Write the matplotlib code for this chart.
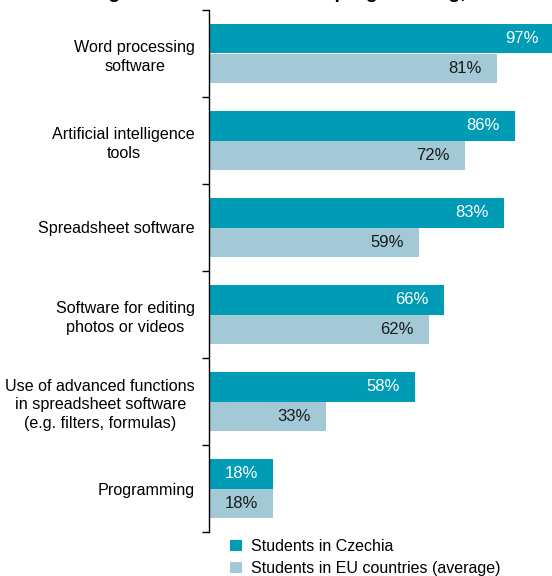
import numpy as np
import matplotlib
matplotlib.use('Agg')
from matplotlib import pyplot as plt

plt.rcParams['font.family'] = ['Liberation Sans', 'DejaVu Sans']

categories = [
    'Word processing\nsoftware',
    'Artificial intelligence\ntools',
    'Spreadsheet software',
    'Software for editing\nphotos or videos',
    'Use of advanced functions\nin spreadsheet software\n(e.g. filters, formulas)',
    'Programming',
]
czechia = [97, 86, 83, 66, 58, 18]
eu_average = [81, 72, 59, 62, 33, 18]
series_names = ['Students in Czechia', 'Students in EU countries (average)']
title = 'Using selected software and programming, 2024'

color_cz = '#009BB5'
color_eu = '#A3C9D7'

fig = plt.figure(figsize=(5.52, 5.76), dpi=100)
ax = fig.add_axes([209 / 552, 44 / 576, 343 / 552, 522 / 576])

n = len(categories)
y = np.arange(n)
bar_h = 0.34

bars_cz = ax.barh(y - bar_h / 2, czechia, height=bar_h, color=color_cz, label=series_names[0])
bars_eu = ax.barh(y + bar_h / 2, eu_average, height=bar_h, color=color_eu, label=series_names[1])

for bars, values, tcolor in [(bars_cz, czechia, 'white'), (bars_eu, eu_average, '#1a1a1a')]:
    for b, v in zip(bars, values):
        ax.text(v - 4.3, b.get_y() + b.get_height() / 2, f'{v}%', ha='right', va='center',
                color=tcolor, fontsize=12)

ax.set_xlim(0, 96.5)
ax.set_ylim(n - 0.5, -0.5)

# category labels on major ticks, group separators on minor ticks
ax.set_yticks(y)
ax.set_yticklabels(categories, fontsize=11.6, multialignment='center', linespacing=1.3)
ax.tick_params(axis='y', which='major', length=0, pad=10)
ax.set_yticks(np.arange(n + 1) - 0.5, minor=True)
ax.tick_params(axis='y', which='minor', length=5, width=1, color='black')
ax.set_xticks([])

for side in ['top', 'right', 'bottom']:
    ax.spines[side].set_visible(False)
ax.spines['left'].set_linewidth(1)

fig.legend(handles=[bars_cz, bars_eu], loc='upper left', bbox_to_anchor=(230 / 552, 1 - 539 / 576),
           frameon=False, fontsize=11.5, handlelength=0.75, handleheight=0.75, handletextpad=0.55,
           labelspacing=0.45, borderaxespad=0, borderpad=0)

fig.text(290 / 552, 1 + 2 / 576, title, ha='center', va='baseline', fontsize=14, fontweight='bold')

fig.savefig('out.png', dpi=100)
